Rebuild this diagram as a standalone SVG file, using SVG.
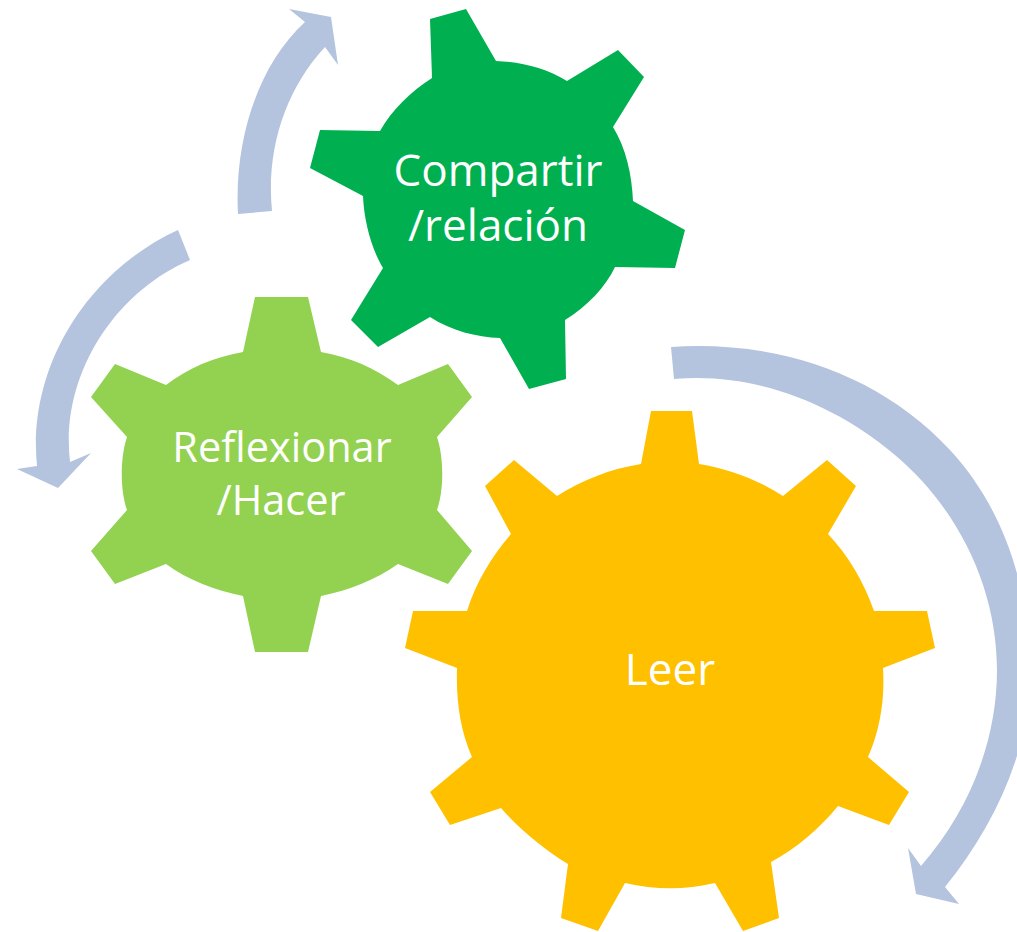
<svg xmlns="http://www.w3.org/2000/svg" width="1017" height="932" viewBox="0 0 1017 932">
<style>
text{font-family:"Open Sans","Noto Sans",sans-serif;fill:#fff;text-anchor:middle;font-size:44px}
text.s{font-size:41.5px}
.a{fill:#b4c3de}
</style>
<rect width="1017" height="932" fill="#fff"/>
<g id="connectors">
<path class="a" d="M238 214C234 140 258 65 305 22L289 9L331 17L338 65L325 47C285 90 266 150 272 211Z"/>
<path class="a" d="M190 260C115 292 60 375 70 462L91 453L58 488L17 469L37 466C27 365 90 270 178 230Z"/>
<path class="a" d="M671 347C780 340 880 375 950 450C1010 515 1030 600 1030 672C1030 750 995 825 945 887L959 904L916 894L908 848L921 866C970 810 997 740 997 670C997 590 960 510 895 455C830 400 750 372 674 379Z"/>
</g>
<g id="compartir">
<path fill="#00b050" d="M430 19L466 9L496 61C522 62 545 68 567 81L618 50L644 77L613 127C626 148 632 175 633 201L685 230L675 268L615 267C606 286 588 306 565 320L566 379L529 389L500 338C476 337 452 331 430 317L378 347L351 320L383 268C372 250 364 222 363 196L310 168L320 130L380 131C392 110 410 92 432 78Z"/>
<text x="498" y="186">Compartir</text>
<text x="498" y="241">/relación</text>
</g>
<g id="reflexionar">
<path fill="#92d250" d="M255 297H308L321 352C350 357 375 368 398 385L448 364L472 397L437 437C444 458 444 490 437 510L472 551L448 584L398 564C375 580 350 590 321 596L308 652H255L243 596C214 590 188 580 166 564L115 584L91 551L127 510C120 490 120 458 127 437L91 397L115 364L166 385C188 368 214 357 243 352Z"/>
<text class="s" x="282" y="462">Reflexionar</text>
<text class="s" x="281" y="515">/Hacer</text>
</g>
<g id="leer">
<path fill="#ffc000" d="M651 411H692L699 464C730 469 758 480 783 496L827 460L856 486L828 534C848 555 864 582 874 611H927L935 648L883 668C885 700 880 730 868 757L909 792L889 825L838 806C820 828 797 848 771 862L779 918L743 931L715 883C685 890 655 890 625 883L598 931L561 918L568 864C545 850 520 830 501 808L450 825L430 792L472 757C460 730 456 700 457 668L405 648L413 611H467C476 582 492 556 511 534L485 486L514 460L557 496C582 480 610 469 641 464Z"/>
<text x="670" y="685">Leer</text>
</g>
</svg>
